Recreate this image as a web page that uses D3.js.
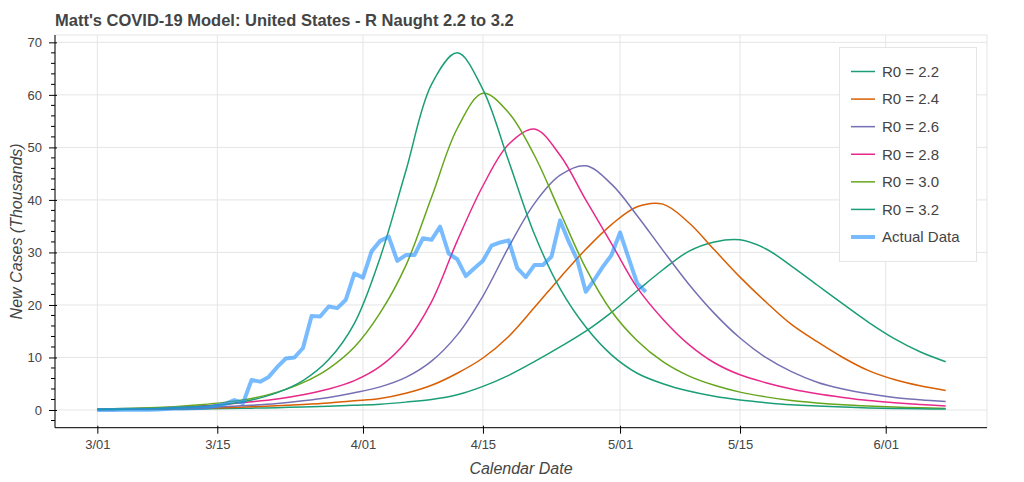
<!DOCTYPE html>
<html>
<head>
<meta charset="utf-8">
<script src="https://cdn.jsdelivr.net/npm/d3@7"></script>
<style>
  html, body { margin: 0; padding: 0; background: #fff; }
  svg { display: block; font-family: "Liberation Sans", Arial, Helvetica, sans-serif; }
</style>
</head>
<body>
<svg id="chart" width="1024" height="482"></svg>
<script>
// ---------------- DATA ----------------
const titleText = "Matt's COVID-19 Model: United States - R Naught 2.2 to 3.2";
const xLabel = "Calendar Date";
const yLabel = "New Cases (Thousands)";

const seriesNames = ["R0 = 2.2", "R0 = 2.4", "R0 = 2.6", "R0 = 2.8", "R0 = 3.0", "R0 = 3.2"];
const seriesColors = ["#1b9e77", "#d95f02", "#7570b3", "#e7298a", "#66a61e", "#1b9e77"];

// model sample days (days after 2020-03-01)
const modelDays = [0, 3, 6, 9, 12, 15, 18, 21, 24, 27, 30, 33, 36, 39, 42, 45, 48, 51, 54, 57, 60, 63, 66, 69, 72, 75, 78, 81, 84, 87, 90, 93, 96, 99];

const r22 = [0.05, 0.08, 0.11, 0.15, 0.2, 0.27, 0.35, 0.45, 0.58, 0.72, 0.9, 1.1, 1.5, 2.0, 2.9, 4.5, 6.6, 9.2, 12.0, 15.0, 18.6, 22.7, 26.7, 30.2, 32.0, 32.4, 30.7, 27.4, 23.8, 20.2, 16.7, 13.6, 11.1, 9.2];
const r24 = [0.08, 0.12, 0.17, 0.24, 0.33, 0.45, 0.6, 0.8, 1.05, 1.35, 1.75, 2.2, 3.2, 4.7, 7.0, 9.9, 14.0, 19.5, 25.2, 30.6, 35.3, 38.7, 39.2, 35.7, 30.5, 25.3, 20.6, 16.3, 13.0, 10.0, 7.5, 5.8, 4.6, 3.7];
const r26 = [0.1, 0.15, 0.22, 0.32, 0.45, 0.65, 0.9, 1.25, 1.75, 2.4, 3.3, 4.4, 6.2, 9.3, 14.3, 21.7, 31.0, 39.3, 44.7, 46.5, 43.0, 37.0, 30.4, 24.0, 18.4, 13.7, 10.0, 7.3, 5.3, 4.0, 3.1, 2.4, 1.95, 1.6];
const r28 = [0.15, 0.22, 0.33, 0.5, 0.75, 1.1, 1.55, 2.1, 2.9, 4.0, 5.6, 8.3, 12.9, 20.6, 32.2, 42.7, 50.6, 53.5, 48.5, 40.0, 31.7, 23.3, 17.3, 12.5, 9.0, 6.7, 5.2, 4.0, 3.1, 2.4, 1.8, 1.4, 1.05, 0.78];
const r30 = [0.18, 0.27, 0.41, 0.63, 1.0, 1.5, 2.2, 3.4, 5.2, 7.9, 12.0, 18.5, 27.5, 40.5, 53.6, 60.3, 56.6, 48.5, 37.7, 27.0, 18.8, 13.2, 9.2, 6.5, 4.7, 3.4, 2.5, 1.8, 1.35, 1.0, 0.75, 0.55, 0.42, 0.3];
const r32 = [0.1, 0.15, 0.25, 0.4, 0.65, 1.1, 1.9, 3.3, 5.6, 9.6, 16.5, 29.0, 45.5, 62.0, 68.0, 61.0, 47.4, 33.5, 23.1, 15.8, 10.5, 7.0, 5.0, 3.6, 2.6, 1.9, 1.4, 1.0, 0.75, 0.55, 0.4, 0.3, 0.22, 0.17];

// actual daily new cases (thousands), one value per day starting 2020-03-01
const actualStart = "2020-03-01";
const actualValues = [0.0, 0.0, 0.0, 0.03, 0.03, 0.05, 0.07, 0.08, 0.2, 0.3, 0.3, 0.35, 0.4, 0.5, 0.8, 1.2, 1.9, 1.3, 5.7, 5.4, 6.3, 8.2, 9.8, 10.0, 11.8, 17.9, 17.8, 19.7, 19.4, 21.0, 26.0, 25.2, 30.2, 32.2, 33.0, 28.4, 29.5, 29.5, 32.7, 32.4, 34.9, 29.8, 28.7, 25.5, 27.0, 28.4, 31.3, 31.9, 32.3, 27.0, 25.3, 27.6, 27.6, 29.2, 36.1, 32.1, 28.6, 22.5, 24.8, 27.3, 29.5, 33.8, 28.9, 24.1, 22.5];
const actualName = "Actual Data";
const actualColor = "#1e90ff";

const xTickDates = ["2020-03-01", "2020-03-15", "2020-04-01", "2020-04-15", "2020-05-01", "2020-05-15", "2020-06-01"];
const xTickLabels = ["3/01", "3/15", "4/01", "4/15", "5/01", "5/15", "6/01"];
const yTicks = [0, 10, 20, 30, 40, 50, 60, 70];
const yMinorTicks = [-2, 2, 4, 6, 8, 12, 14, 16, 18, 22, 24, 26, 28, 32, 34, 36, 38, 42, 44, 46, 48, 52, 54, 56, 58, 62, 64, 66, 68];

// ---------------- LAYOUT ----------------
const W = 1024, H = 482;
const plot = { left: 55, right: 987, top: 35, bottom: 427.7 };
const DAY = 86400000;
const t0 = Date.UTC(2020, 2, 1);
const parse = s => { const [y, m, d] = s.split("-").map(Number); return new Date(Date.UTC(y, m - 1, d)); };
const dayDate = n => new Date(t0 + n * DAY);

const x = d3.scaleUtc()
  .domain([dayDate(-4.94), dayDate(103.82)])
  .range([plot.left, plot.right]);
const y = d3.scaleLinear()
  .domain([-3.37, 71.4])
  .range([plot.bottom, plot.top]);

const svg = d3.select("#chart");
const textColor = "#444444";
const gridColor = "#e5e5e5";

// grid
const grid = svg.append("g");
grid.selectAll(".gy").data(yTicks).join("line")
  .attr("x1", plot.left).attr("x2", plot.right)
  .attr("y1", d => y(d)).attr("y2", d => y(d))
  .attr("stroke", gridColor).attr("stroke-width", 1);
grid.selectAll(".gx").data(xTickDates).join("line")
  .attr("x1", d => x(parse(d))).attr("x2", d => x(parse(d)))
  .attr("y1", plot.top).attr("y2", plot.bottom)
  .attr("stroke", gridColor).attr("stroke-width", 1);
// outline
svg.append("rect")
  .attr("x", plot.left).attr("y", plot.top)
  .attr("width", plot.right - plot.left).attr("height", plot.bottom - plot.top)
  .attr("fill", "none").attr("stroke", gridColor).attr("stroke-width", 1);

// clip
svg.append("clipPath").attr("id", "clip").append("rect")
  .attr("x", plot.left).attr("y", plot.top)
  .attr("width", plot.right - plot.left).attr("height", plot.bottom - plot.top);

const lines = svg.append("g").attr("clip-path", "url(#clip)");
const modelSeries = [r22, r24, r26, r28, r30, r32];
const lineGen = d3.line()
  .x(d => x(dayDate(d[0])))
  .y(d => y(d[1]))
  .curve(d3.curveCatmullRom.alpha(0.5));

modelSeries.forEach((vals, i) => {
  lines.append("path")
    .datum(modelDays.map((d, j) => [d, vals[j]]))
    .attr("d", lineGen)
    .attr("fill", "none")
    .attr("stroke", seriesColors[i])
    .attr("stroke-width", 1.5);
});

const actualLine = d3.line()
  .x((d, i) => x(new Date(parse(actualStart).getTime() + i * DAY)))
  .y(d => y(d));
lines.append("path")
  .datum(actualValues)
  .attr("d", actualLine)
  .attr("fill", "none")
  .attr("stroke", actualColor)
  .attr("stroke-opacity", 0.6)
  .attr("stroke-width", 4)
  .attr("stroke-linejoin", "round");

// axes
const xAxis = d3.axisBottom(x)
  .tickValues(xTickDates.map(parse))
  .tickFormat((d, i) => xTickLabels[i])
  .tickSizeOuter(0).tickSizeInner(6).tickPadding(6);
const gx = svg.append("g").attr("transform", `translate(0,${plot.bottom})`).call(xAxis);
gx.select(".domain").attr("d", `M${plot.left},0H${plot.right}`).attr("stroke", "#000");
gx.selectAll(".tick line").attr("y1", -2).attr("y2", 6).attr("stroke", "#000");
gx.selectAll(".tick text").attr("fill", textColor).attr("font-size", 13).attr("dy", "0.71em")
  .attr("font-family", "Liberation Sans, Arial, sans-serif");

const yAxis = d3.axisLeft(y)
  .tickValues(yTicks)
  .tickFormat(d3.format("d"))
  .tickSizeOuter(0).tickSizeInner(6).tickPadding(7);
const gy = svg.append("g").attr("transform", `translate(${plot.left},0)`).call(yAxis);
gy.select(".domain").attr("d", `M0,${plot.top}V${plot.bottom}`).attr("stroke", "#000");
gy.selectAll(".tick line").attr("x1", 2).attr("x2", -6).attr("stroke", "#000");
gy.selectAll(".tick text").attr("fill", textColor).attr("font-size", 13)
  .attr("font-family", "Liberation Sans, Arial, sans-serif");
gy.selectAll(".minor").data(yMinorTicks).join("line")
  .attr("class", "minor")
  .attr("x1", 0).attr("x2", -4)
  .attr("y1", d => y(d)).attr("y2", d => y(d))
  .attr("stroke", "#000");

// title and axis labels
svg.append("text")
  .attr("x", 55).attr("y", 26)
  .attr("fill", textColor)
  .attr("font-size", 16.5).attr("font-weight", "bold")
  .text(titleText);
svg.append("text")
  .attr("x", (plot.left + plot.right) / 2).attr("y", 474)
  .attr("text-anchor", "middle")
  .attr("fill", textColor).attr("font-size", 16).attr("font-style", "italic")
  .text(xLabel);
svg.append("text")
  .attr("transform", `translate(22,${(plot.top + plot.bottom) / 2}) rotate(-90)`)
  .attr("text-anchor", "middle")
  .attr("fill", textColor).attr("font-size", 16).attr("font-style", "italic")
  .text(yLabel);

// legend
const legend = svg.append("g");
legend.append("rect")
  .attr("x", 839.5).attr("y", 47.5).attr("width", 137).attr("height", 214)
  .attr("fill", "#fff").attr("stroke", gridColor).attr("stroke-width", 1);
const legendItems = seriesNames.map((n, i) => ({ name: n, color: seriesColors[i], width: 1.5, opacity: 1 }))
  .concat([{ name: actualName, color: actualColor, width: 4, opacity: 0.6 }]);
const legendY = d3.scalePoint().domain(d3.range(legendItems.length)).range([71.5, 237]);
const li = legend.selectAll(".li").data(legendItems).join("g")
  .attr("transform", (d, i) => `translate(0,${legendY(i)})`);
li.append("line")
  .attr("x1", 851).attr("x2", 875).attr("y1", 0).attr("y2", 0)
  .attr("stroke", d => d.color).attr("stroke-width", d => d.width).attr("stroke-opacity", d => d.opacity);
li.append("text")
  .attr("x", 882).attr("y", 0).attr("dy", "0.35em")
  .attr("fill", textColor).attr("font-size", 15)
  .text(d => d.name);
</script>
</body>
</html>
